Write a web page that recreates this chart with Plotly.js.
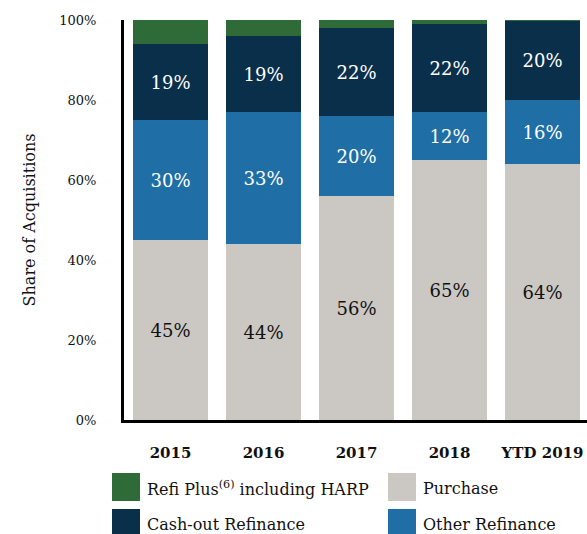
<!DOCTYPE html>
<html>
<head>
<meta charset="utf-8">
<script src="https://cdn.plot.ly/plotly-3.0.1.min.js"></script>
<style>html,body{margin:0;padding:0;background:#fff;}#chart{width:587px;height:534px;}</style>
</head>
<body>
<div id="chart"></div>
<script>
const categories = ['2015', '2016', '2017', '2018', 'YTD 2019'];
const purchase = [45, 44, 56, 65, 64];
const otherRefi = [30, 33, 20, 12, 16];
const cashOut = [19, 19, 22, 22, 19.7];
const refiPlus = [6, 4, 2, 1, 0.3];
const yTickVals = [0, 20, 40, 60, 80, 100];
const yTickText = ['0%', '20%', '40%', '60%', '80%', '100%'];

const names = {
  refiPlus: 'Refi Plus<sup>(6)</sup> including HARP',
  purchase: 'Purchase',
  cashOut: 'Cash-out Refinance',
  otherRefi: 'Other Refinance'
};
const colors = {
  refiPlus: '#2e6b39',
  purchase: '#cbc8c4',
  cashOut: '#0a2f4b',
  otherRefi: '#1f6ea6'
};
const serif = 'DejaVu Serif, Liberation Serif, serif';

function bar(key, vals, textColor, showText) {
  const t = {
    type: 'bar', x: categories, y: vals, name: names[key],
    marker: {color: colors[key], line: {width: 0}},
    hoverinfo: 'x+y', showlegend: false, cliponaxis: true
  };
  if (showText) {
    t.text = vals.map(v => Math.round(v) + '%');
    t.textposition = 'inside';
    t.insidetextanchor = 'middle';
    t.textfont = {family: serif, size: 18, color: textColor};
    t.constraintext = 'none';
  } else {
    t.textposition = 'none';
  }
  return t;
}

const data = [
  bar('purchase', purchase, '#111', true),
  bar('otherRefi', otherRefi, '#fff', true),
  bar('cashOut', cashOut, '#fff', true),
  bar('refiPlus', refiPlus, '#fff', false)
];

// legend built from shapes + annotations (2 columns)
const legendItems = [
  {key: 'refiPlus', col: 0, row: 0},
  {key: 'purchase', col: 1, row: 0},
  {key: 'cashOut', col: 0, row: 1},
  {key: 'otherRefi', col: 1, row: 1}
];
const L = 124, W = 463, T = 20, H = 400;
const px2x = p => (p - L) / W;
const px2y = p => (T + H - p) / H;
const colX = [112, 388];
const rowY = [473, 509];
const shapes = [], annotations = [];
legendItems.forEach(it => {
  const x0 = colX[it.col], y0 = rowY[it.row];
  shapes.push({type: 'rect', xref: 'paper', yref: 'paper',
    x0: px2x(x0), x1: px2x(x0 + 28), y0: px2y(y0 + 28), y1: px2y(y0),
    fillcolor: colors[it.key], line: {width: 0}});
  annotations.push({xref: 'paper', yref: 'paper', x: px2x(x0 + 33), y: px2y(y0 + 15),
    xanchor: 'left', yanchor: 'middle', showarrow: false, text: names[it.key],
    font: {family: serif, size: 16, color: '#111'}});
});

const layout = {
  width: 587, height: 534,
  margin: {l: L, r: 0, t: T, b: 534 - T - H},
  paper_bgcolor: '#fff', plot_bgcolor: '#fff',
  barmode: 'stack', bargap: 0.194,
  showlegend: false,
  font: {family: serif, color: '#111'},
  xaxis: {
    range: [-0.5, 4.478], type: 'category',
    showline: true, linecolor: '#000', linewidth: 3,
    ticks: '', showgrid: false, zeroline: false,
    tickfont: {family: serif, size: 15, color: '#111', weight: 'bold'},
    ticklabelstandoff: 17
  },
  yaxis: {
    range: [0, 100], tickvals: yTickVals, ticktext: yTickText,
    showline: true, linecolor: '#000', linewidth: 3,
    ticks: '', showgrid: false, zeroline: false,
    tickfont: {family: serif, size: 13, color: '#111'},
    ticklabelstandoff: 22,
    title: {text: 'Share of Acquisitions', font: {family: serif, size: 16, color: '#111'}, standoff: 20}
  },
  shapes: shapes,
  annotations: annotations
};

Plotly.newPlot('chart', data, layout, {displayModeBar: false, staticPlot: true});
</script>
</body>
</html>
